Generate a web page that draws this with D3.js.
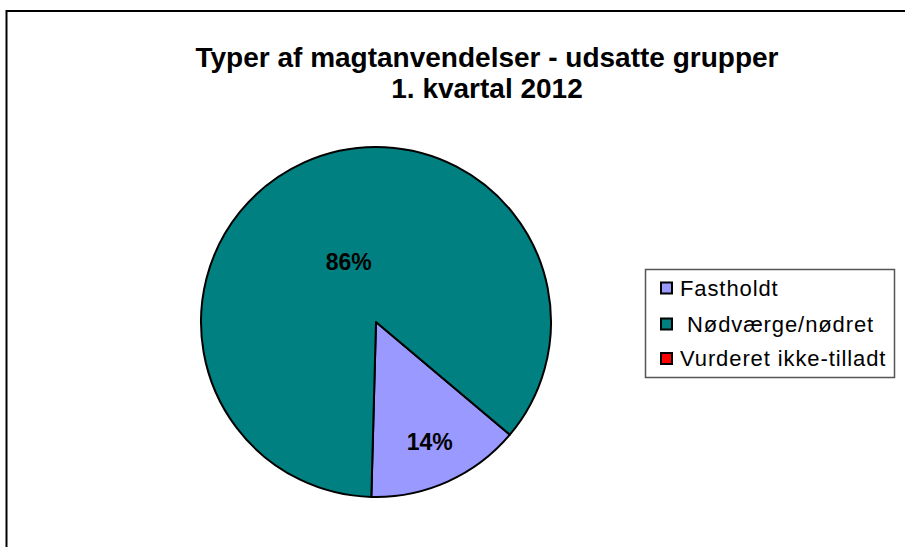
<!DOCTYPE html>
<html>
<head>
<meta charset="utf-8">
<script src="https://cdn.jsdelivr.net/npm/d3@7"></script>
<style>
  body { margin: 0; background: #fff; }
  text { font-family: "Liberation Sans", Arial, sans-serif; }
</style>
</head>
<body>
<div id="chart"></div>
<script>
'use strict';

// chart data
var titleLines = ['Typer af magtanvendelser - udsatte grupper', '1. kvartal 2012'];
var categories = ['Fastholdt', 'Nødværge/nødret', 'Vurderet ikke-tilladt'];
var values = [1, 6, 0];
var colors = ['#9999FF', '#008080', '#FF0000'];

var width = 905;
var height = 547;

var svg = d3.select('#chart')
    .append('svg')
    .attr('width', width)
    .attr('height', height);

// outer frame (runs off right and bottom edges)
svg.append('rect')
    .attr('x', 6.5)
    .attr('y', 11)
    .attr('width', 920)
    .attr('height', 560)
    .attr('fill', '#fff')
    .attr('stroke', '#000')
    .attr('stroke-width', 2);

// title
svg.append('text')
    .attr('x', 487)
    .attr('y', 67)
    .attr('text-anchor', 'middle')
    .style('font-weight', 'bold')
    .style('font-size', '28px')
    .selectAll('tspan')
    .data(titleLines)
    .enter()
    .append('tspan')
    .attr('x', 487)
    .attr('dy', function (d, i) { return i === 0 ? 0 : 31; })
    .text(function (d) { return d; });

// pie
var cx = 376, cy = 322, radius = 175;
var total = d3.sum(values);
var startAngle = 130.1 * Math.PI / 180;

var pie = d3.pie()
    .sort(null)
    .value(function (d) { return d; })
    .startAngle(startAngle)
    .endAngle(startAngle + 2 * Math.PI);

var arc = d3.arc().innerRadius(0).outerRadius(radius);

var g = svg.append('g')
    .attr('transform', 'translate(' + cx + ',' + cy + ')');

var arcs = pie(values).filter(function (d) { return d.value > 0; });

g.selectAll('path')
    .data(arcs)
    .enter()
    .append('path')
    .attr('d', arc)
    .attr('fill', function (d) { return colors[d.index]; })
    .attr('stroke', '#000')
    .attr('stroke-width', 2)
    .attr('stroke-linejoin', 'round');

// percentage labels (excel puts them at different depths per slice)
var labelDepth = [0.75, 0.38];
g.selectAll('text.pct')
    .data(arcs)
    .enter()
    .append('text')
    .attr('class', 'pct')
    .attr('transform', function (d) {
      var r = radius * labelDepth[d.index];
      var c = d3.arc().innerRadius(r).outerRadius(r).centroid(d);
      return 'translate(' + c[0] + ',' + c[1] + ')';
    })
    .attr('text-anchor', 'middle')
    .attr('dy', '0.36em')
    .style('font-weight', 'bold')
    .style('font-size', '23px')
    .text(function (d) { return Math.round(d.value / total * 100) + '%'; });

// legend
var legend = svg.append('g').attr('class', 'legend');
legend.append('rect')
    .attr('x', 645.5)
    .attr('y', 269.5)
    .attr('width', 249)
    .attr('height', 108)
    .attr('fill', '#fff')
    .attr('stroke', '#555')
    .attr('stroke-width', 1.5);

var legendY = [288, 324, 358.5];
var legendTextX = [680, 687, 680];

var items = legend.selectAll('g.item')
    .data(categories)
    .enter()
    .append('g')
    .attr('class', 'item')
    .attr('transform', function (d, i) { return 'translate(0,' + legendY[i] + ')'; });

items.append('rect')
    .attr('x', 661)
    .attr('y', -5.5)
    .attr('width', 11)
    .attr('height', 11)
    .attr('fill', function (d, i) { return colors[i]; })
    .attr('stroke', '#000')
    .attr('stroke-width', 2);

items.append('text')
    .attr('x', function (d, i) { return legendTextX[i]; })
    .attr('dy', '0.36em')
    .style('font-size', '22px')
    .style('letter-spacing', '0.9px')
    .text(function (d) { return d; });
</script>
</body>
</html>
